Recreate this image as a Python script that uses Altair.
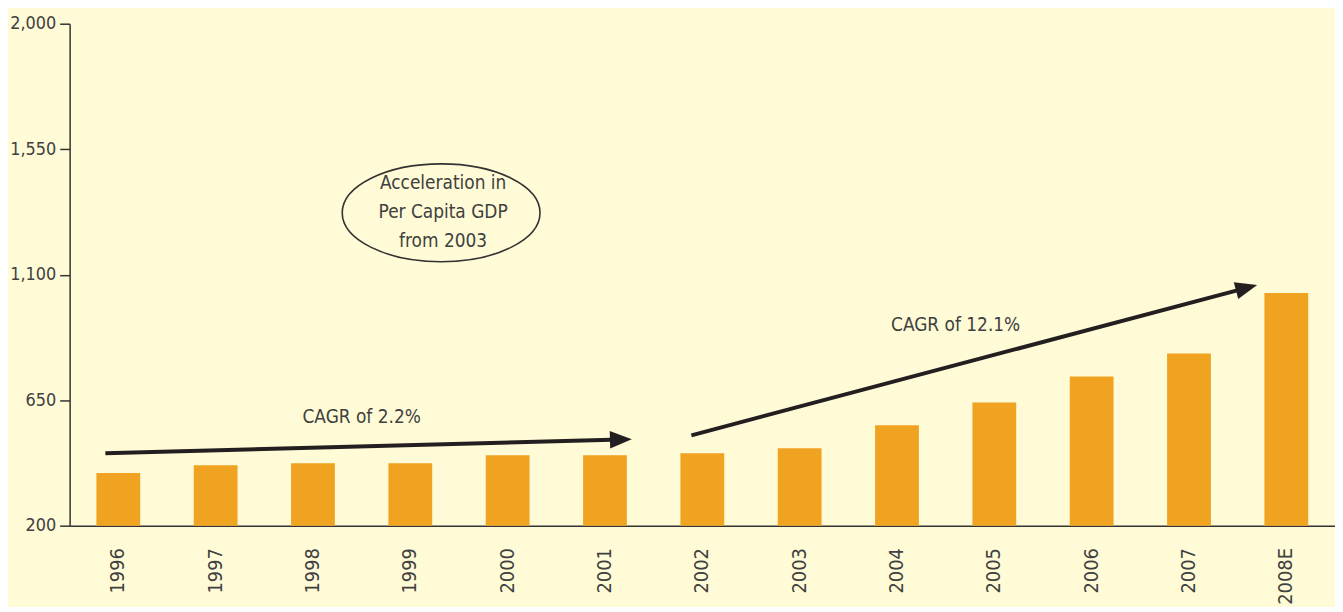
import altair as alt
import pandas as pd

# ---- data ----
years = ["1996", "1997", "1998", "1999", "2000", "2001", "2002",
         "2003", "2004", "2005", "2006", "2007", "2008E"]
gdp_per_capita = [389, 417, 424, 424, 453, 453, 460, 478, 560, 642, 735, 817, 1034]
y_ticks = [200, 650, 1100, 1550, 2000]

arrow_start_year = ["1996", "2002"]
arrow_end_year = ["2001", "2008E"]
arrow_start_val = [460, 524]
arrow_end_val = [509, 1053]
arrow_labels = ["CAGR of 2.2%", "CAGR of 12.1%"]
arrow_label_year = ["1998", "2004"]
arrow_label_val = [588, 920]

bubble_year = "1999"
bubble_val = 1322
bubble_text = ["Acceleration in", "Per Capita GDP", "from 2003"]

FONT = "Liberation Sans Narrow, DejaVu Sans Condensed, Roboto, sans-serif"
TXT = "#404040"
DARK = "#231F20"
BAR = "#F0A321"

df = pd.DataFrame({"Year": years, "Value": gdp_per_capita})

x_scale = alt.Scale(domain=years, paddingInner=0.55, paddingOuter=0.275)
y_scale = alt.Scale(domain=[200, 2000], nice=False, zero=False)

x_enc = alt.X("Year:N", scale=x_scale,
              axis=alt.Axis(title=None, labelAngle=-90, labelAlign="right",
                            labelBaseline="middle", labelPadding=22, ticks=False,
                            labelFontSize=20, labelFont=FONT, labelColor=TXT,
                            domainColor="#333333", domainWidth=1.5))

bars = alt.Chart(df).mark_bar(color=BAR).encode(
    x=x_enc,
    y=alt.Y("Value:Q", scale=y_scale,
            axis=alt.Axis(title=None, values=y_ticks, format=",.0f", grid=False,
                          tickSize=10, tickColor="#333333", tickWidth=1.5,
                          labelPadding=4, labelFontSize=18, labelFont=FONT,
                          labelColor=TXT, domainColor="#333333", domainWidth=1.5)),
    y2=alt.datum(200),
)

def arrow(i, off_start, off_end, angle):
    d = pd.DataFrame({"Year": [arrow_start_year[i]], "Year2": [arrow_end_year[i]],
                      "Value": [arrow_start_val[i]], "Value2": [arrow_end_val[i]]})
    line = alt.Chart(d).mark_rule(color=DARK, strokeWidth=4,
                                  xOffset=off_start, x2Offset=off_end).encode(
        x=alt.X("Year:N", scale=x_scale), x2="Year2:N",
        y=alt.Y("Value:Q", scale=y_scale), y2="Value2:Q")
    hd = pd.DataFrame({"Year": [arrow_end_year[i]], "Value": [arrow_end_val[i]]})
    head = alt.Chart(hd).mark_point(
        shape="M 1 0 L -1 -0.8 L -1 0.8 Z", size=484, filled=True,
        color=DARK, opacity=1, angle=angle, xOffset=off_end).encode(
        x=alt.X("Year:N", scale=x_scale), y=alt.Y("Value:Q", scale=y_scale))
    return line + head

arrow1 = arrow(0, -13, 16, 358.5)
arrow2 = arrow(1, -11, -40, 345.2)

lab_df = pd.DataFrame({"Year": arrow_label_year, "Value": arrow_label_val,
                       "Label": arrow_labels})
lab1 = alt.Chart(lab_df.iloc[[0]]).mark_text(
    font=FONT, fontSize=19, color=TXT, xOffset=49).encode(
    x=alt.X("Year:N", scale=x_scale), y=alt.Y("Value:Q", scale=y_scale), text="Label:N")
lab2 = alt.Chart(lab_df.iloc[[1]]).mark_text(
    font=FONT, fontSize=19, color=TXT, xOffset=59).encode(
    x=alt.X("Year:N", scale=x_scale), y=alt.Y("Value:Q", scale=y_scale), text="Label:N")

bub_df = pd.DataFrame({"Year": [bubble_year], "Value": [bubble_val]})
ellipse = alt.Chart(bub_df).mark_point(
    shape="M -1 0 A 1 0.495 0 1 1 1 0 A 1 0.495 0 1 1 -1 0 Z",
    size=199 * 199, filled=False, stroke="#333333", strokeWidth=1.6,
    opacity=1, xOffset=31).encode(
    x=alt.X("Year:N", scale=x_scale), y=alt.Y("Value:Q", scale=y_scale))
bub_txt = alt.Chart(bub_df).mark_text(
    font=FONT, fontSize=19, color=TXT, lineHeight=29, xOffset=33, yOffset=-30).encode(
    x=alt.X("Year:N", scale=x_scale), y=alt.Y("Value:Q", scale=y_scale),
    text=alt.value(bubble_text))

chart = alt.layer(bars, arrow1, arrow2, lab1, lab2, ellipse, bub_txt).properties(
    width=1273, height=505,
    autosize=alt.AutoSizeParams(type="none"),
    padding={"left": 62, "top": 14, "right": 0, "bottom": 80},
    background="#FFFBD6",
).configure_view(stroke=None)

chart.save("out.html", embed_options={"renderer": "svg", "actions": False})
